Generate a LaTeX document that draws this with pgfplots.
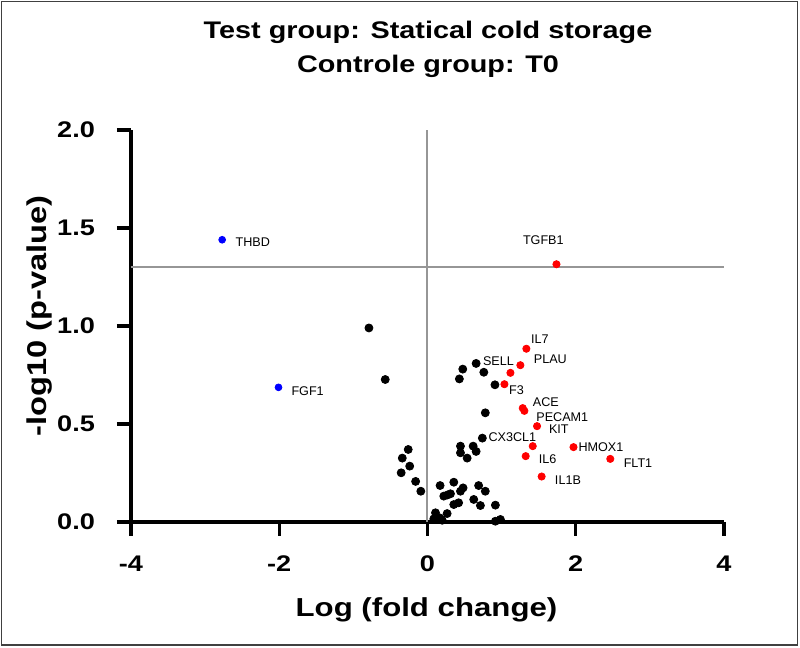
\documentclass[border=0pt]{standalone}
\usepackage{fontspec}
\setmainfont{Liberation Sans}
\newfontfamily\widefont[FakeStretch=1.2]{Liberation Sans}
\usepackage{pgfplots}
\pgfplotsset{compat=1.18}
\definecolor{refgray}{RGB}{150,150,150}
\definecolor{sigred}{RGB}{255,0,0}
\definecolor{sigblue}{RGB}{0,0,255}
\begin{document}
\begin{tikzpicture}
\useasboundingbox (-65.5pt,-63pt) rectangle (334.5pt,261pt);
\draw[black!75, line width=0.8pt] (-64.75pt,-61.5pt) rectangle (333.25pt,260.25pt);
\begin{axis}[
  scale only axis, width=296.5pt, height=196pt,
  xmin=-4, xmax=4, ymin=0, ymax=2,
  axis x line*=bottom, axis y line*=left,
  axis line style={line width=1.6pt},
  xtick={-4,-2,0,2,4}, ytick={0,0.5,1,1.5,2},
  xticklabels={-4,-2,0,2,4},
  yticklabels={0.0,0.5,1.0,1.5,2.0},
  tick align=outside, major tick length=7pt,
  every tick/.style={black, line width=1.6pt},
  tick label style={font=\widefont\bfseries\fontsize{11.3}{13}\selectfont},
  xticklabel style={yshift=-6.5pt},
  yticklabel style={xshift=-7.5pt},
  clip=false,
]
\addplot[refgray, line width=1pt] coordinates {(-4,1.301) (4,1.301)};
\addplot[refgray, line width=1pt] coordinates {(0,0) (0,2)};
\addplot[only marks, mark=*, mark size=2pt, black] table {
x y
-0.79 0.99
-0.57 0.727
0.656 0.809
0.476 0.78
0.76 0.764
0.43 0.73
0.91 0.70
0.78 0.557
0.74 0.428
0.445 0.387
0.616 0.387
0.445 0.353
0.656 0.36
0.535 0.326
-0.26 0.37
-0.34 0.326
-0.24 0.285
-0.355 0.251
-0.16 0.207
-0.09 0.157
0.17 0.186
0.355 0.203
0.22 0.132
0.27 0.138
0.31 0.144
0.445 0.157
0.48 0.174
0.69 0.186
0.78 0.157
0.355 0.089
0.42 0.098
0.624 0.115
0.714 0.084
0.916 0.086
0.265 0.043
0.108 0.047
0.085 0.016
0.166 0.021
0.198 0.009
0.916 0.004
0.984 0.013
};
\addplot[only marks, mark=*, mark size=1.8pt, color=sigred] table {
x y
1.74 1.315
1.334 0.884
1.253 0.80
1.119 0.761
1.038 0.703
1.285 0.581
1.307 0.567
1.478 0.489
1.42 0.387
1.325 0.336
1.54 0.232
1.97 0.382
2.466 0.322
};
\addplot[only marks, mark=*, mark size=1.7pt, color=sigblue] table {
x y
-2.77 1.44
-2.01 0.687
};
\begin{scope}[every node/.style={font=\fontsize{6.3}{7}\selectfont, inner sep=0pt, anchor=center}]
\node at (axis cs:1.516,0.931) {IL7};
\node at (axis cs:1.658,0.829) {PLAU};
\node at (axis cs:0.957,0.819) {SELL};
\node at (axis cs:1.2,0.671) {F3};
\node at (axis cs:1.597,0.610) {ACE};
\node at (axis cs:1.819,0.533) {PECAM1};
\node at (axis cs:1.772,0.474) {KIT};
\node at (axis cs:1.146,0.431) {CX3CL1};
\node at (axis cs:2.34,0.380) {HMOX1};
\node at (axis cs:2.84,0.298) {FLT1};
\node at (axis cs:1.62,0.319) {IL6};
\node at (axis cs:1.895,0.212) {IL1B};
\node at (axis cs:1.563,1.436) {TGFB1};
\node at (axis cs:-2.358,1.426) {THBD};
\node at (axis cs:-1.617,0.666) {FGF1};
\end{scope}
\end{axis}
\node[anchor=base, font=\widefont\bfseries\fontsize{12}{14}\selectfont] at (148.5pt,241.5pt) {Test group: Statical cold storage};
\node[anchor=base, font=\widefont\bfseries\fontsize{12}{14}\selectfont] at (148.5pt,224.5pt) {Controle group: T0};
\node[anchor=base, font=\widefont\bfseries\fontsize{13}{15}\selectfont] at (147.75pt,-47.5pt) {Log (fold change)};
\node[anchor=base, rotate=90, font=\widefont\bfseries\fontsize{13.6}{15}\selectfont] at (-42.2pt,103pt) {-log10 (p-value)};
\end{tikzpicture}
\end{document}
